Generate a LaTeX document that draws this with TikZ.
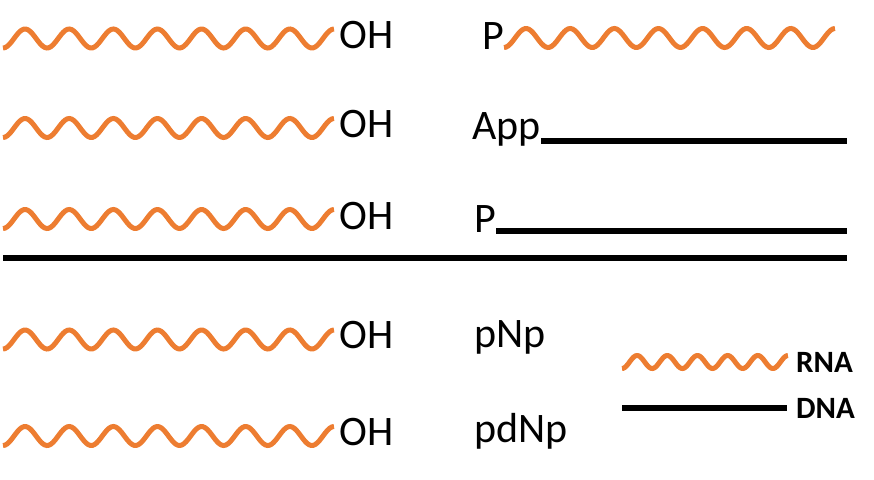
\documentclass[tikz,border=0pt]{standalone}
\usepackage{fontspec}
\setmainfont{Carlito}
\usetikzlibrary{positioning}
\definecolor{rnaorange}{HTML}{ED7D31}

% wavy strand: x0, y centre, width, amplitude, periods
\newcommand\rnawave[5]{%
	\draw[rna] plot[domain=0:#5, samples=160, smooth] ({#1+#3*\x/#5}, {#2+#4*cos(360*\x)});}

\tikzset{
	rna/.style={rnaorange, line width=5pt},
	dna/.style={black, line width=6pt},
	lbl/.style={inner sep=0pt, anchor=base west, font=\fontsize{42}{48}\selectfont},
	key/.style={inner sep=0pt, anchor=base west, font=\fontsize{31}{36}\selectfont\bfseries}
}

\begin{document}
\begin{tikzpicture}[x=1pt,y=-1pt]
	\useasboundingbox (0,0) rectangle (874,479);

	% left strands
	\rnawave{3}{38.5}{331}{9.5}{7.5}
	\rnawave{3}{128}{331}{9.5}{7.5}
	\rnawave{3}{219}{331}{9.5}{7.5}
	\rnawave{3}{339.5}{331}{9.5}{7.5}
	\rnawave{3}{436}{331}{9.5}{7.5}

	\node[lbl] (oh1) at (339,48) {OH};
	\node[lbl] (oh2) at (339,137) {OH};
	\node[lbl] (oh3) at (339,229) {OH};
	\node[lbl] (oh4) at (339,348) {OH};
	\node[lbl] (oh5) at (339,445) {OH};

	% right side
	\node[lbl] (p1) at (482,49) {P};
	\rnawave{504}{38}{331}{9.5}{7.5}

	\node[lbl] (app) at (472,139) {App};
	\coordinate (append) at (847,141);
	\draw[dna] (app.east |- append) -- (append);

	\node[lbl] (p2) at (474,232) {P};
	\coordinate (pend) at (847,231);
	\draw[dna] (p2.east |- pend) -- (pend);

	% separator
	\coordinate (sepl) at (3,258);
	\coordinate (sepr) at (847,258);
	\draw[dna] (sepl) -- (sepr);

	\node[lbl] (pnp) at (474,347) {pNp};
	\node[lbl] (pdnp) at (474,442) {pdNp};

	% key
	\rnawave{622}{362}{166}{6.5}{5.5}
	\node[key] (rnakey) at (796,372) {RNA};
	\coordinate (dnastart) at (622,408);
	\node[key] (dnakey) at (796,418) {DNA};
	\draw[dna] (dnastart) -- (dnastart -| 787,0);
\end{tikzpicture}
\end{document}
